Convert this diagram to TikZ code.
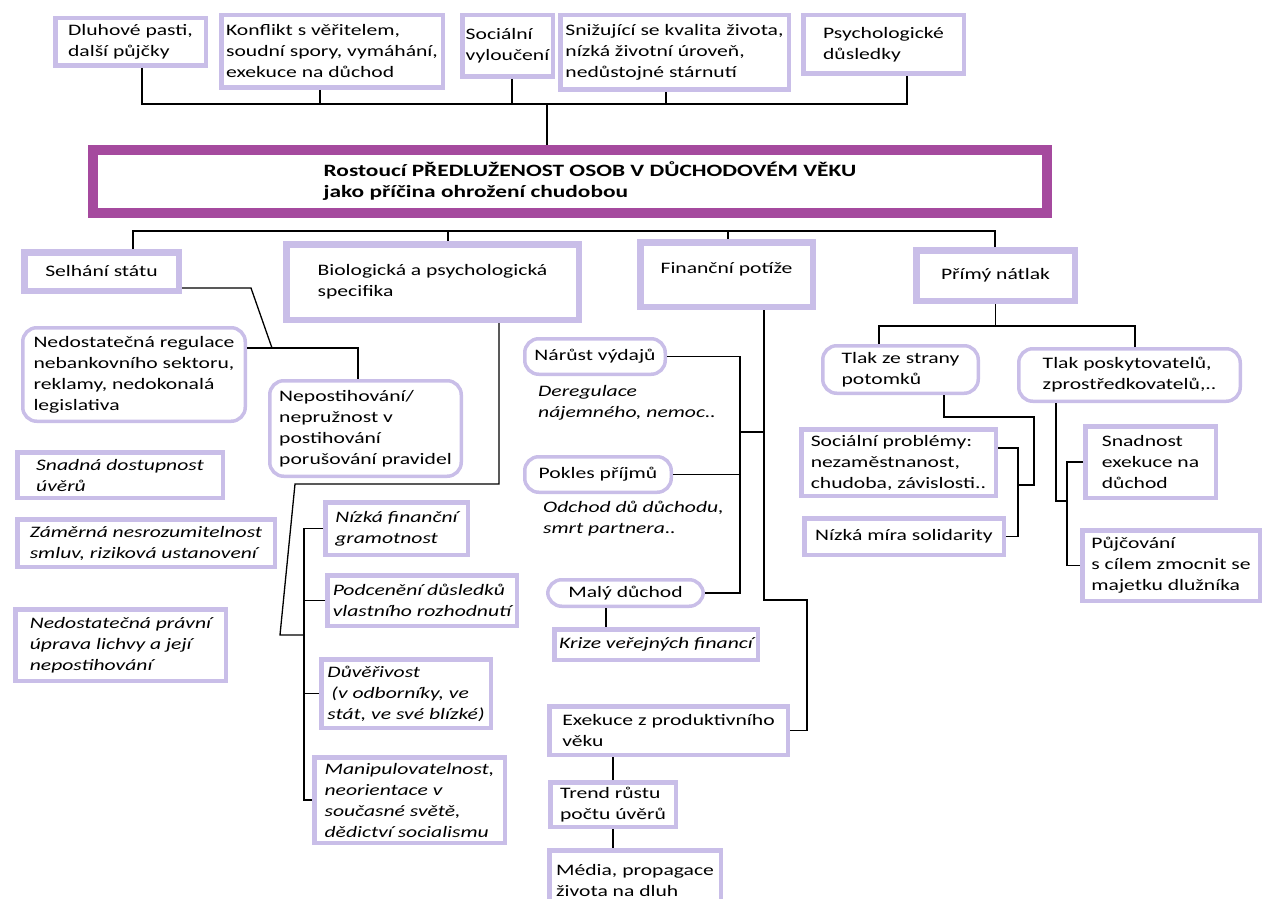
\documentclass[tikz,border=0pt]{standalone}
\usepackage{fontspec}
\setmainfont{Carlito}[FakeStretch=1.35]
\newcommand\fsize{\fontsize{16}{21}\selectfont}
\definecolor{lav}{RGB}{201,190,232}
\definecolor{plum}{RGB}{165,74,158}
\tikzset{
  box/.style={draw=lav, line width=4.5pt, inner sep=0pt, align=left},
  bigbox/.style={box, line width=6.5pt},
  roundbox/.style={box, line width=3.5pt, rounded corners=14pt},
  itbox/.style={box, font=\fsize\itshape},
  note/.style={inner sep=0pt, align=left, anchor=north west, font=\fsize\itshape},
  boxsize/.style 2 args={minimum width={#1-\pgflinewidth}, minimum height={#2-\pgflinewidth}},
  link/.style={line width=1.3pt}
}
\begin{document}
\begin{tikzpicture}[x=1pt, y=-1pt, font=\fsize]
\useasboundingbox (0,0) rectangle (1264,899);
% consequences
\node[box, boxsize={155}{52}] (dluh) at (130.5,42) {Dluhové pasti,\\další půjčky};
\node[box, boxsize={226}{77}] (konf) at (332,51.5) {Konflikt s věřitelem,\\soudní spory, vymáhání,\\exekuce na důchod};
\node[box, boxsize={95}{66}] (socv) at (507.5,46) {Sociální\\vyloučení};
\node[box, boxsize={233}{79}] (kval) at (674.5,52.5) {Snižující se kvalita života,\\nízká životní úroveň,\\nedůstojné stárnutí};
\node[box, boxsize={165}{63}] (psych) at (883.5,44.5) {Psychologické\\důsledky};
% main problem
\node[draw=plum, line width=10pt, inner sep=0pt, align=left, boxsize={964}{73}, font=\fontsize{17.3}{21}\selectfont\bfseries] (title) at (570,181.5)
  {\hspace*{40pt}Rostoucí PŘEDLUŽENOST OSOB V DŮCHODOVÉM VĚKU\\\hspace*{40pt}jako příčina ohrožení chudobou};
% causes
\node[bigbox, boxsize={161}{45}] (selh) at (101.5,271.5) {Selhání státu};
\node[bigbox, boxsize={299}{82}] (bio) at (432.5,282) {Biologická a psychologická\\specifika};
\node[bigbox, boxsize={179}{71}, text depth=14pt] (fin) at (726.5,274.5) {Finanční potíže};
\node[bigbox, boxsize={165}{57}] (tlak) at (995.5,275.5) {Přímý nátlak};
% state
\node[roundbox, boxsize={226}{97}] (regul) at (134,374.5) {Nedostatečná regulace\\nebankovního sektoru,\\reklamy, nedokonalá\\legislativa};
\node[roundbox, boxsize={195}{99}] (nepost) at (365.5,428.5) {Nepostihování/\\nepružnost v\\postihování\\porušování pravidel};
\node[itbox, boxsize={210}{50}] (uver) at (120,475) {Snadná dostupnost\\úvěrů};
\node[itbox, boxsize={262}{52}] (smluv) at (146,543) {Záměrná nesrozumitelnost\\smluv, riziková ustanovení};
\node[itbox, boxsize={215}{76}] (lichva) at (120.5,645) {Nedostatečná právní\\úprava lichvy a její\\nepostihování};
% biology
\node[itbox, boxsize={147}{57}] (gram) at (396.5,528.5) {Nízká finanční\\gramotnost};
\node[itbox, boxsize={194}{55}] (podc) at (422,600.5) {Podcenění důsledků\\vlastního rozhodnutí};
\node[itbox, boxsize={174}{73}] (duver) at (406,693.5) {Důvěřivost\\\hspace*{4pt}(v odborníky, ve\\stát, ve své blízké)};
\node[itbox, boxsize={195}{90}] (manip) at (409.5,800) {Manipulovatelnost,\\neorientace v\\současné světě,\\dědictví socialismu};
% finance
\node[roundbox, boxsize={144}{39}] (vydaje) at (595,356.5) {Nárůst výdajů};
\node[note] (dereg) at (538,385) {Deregulace\\nájemného, nemoc..};
\node[roundbox, boxsize={150}{39}] (prijmy) at (598,474.5) {Pokles příjmů};
\node[note] (odchod) at (543,501) {Odchod dů důchodu,\\smrt partnera..};
\node[roundbox, boxsize={159}{30}] (maly) at (625.5,593) {Malý důchod};
\node[itbox, boxsize={208}{35}] (krize) at (656,644.5) {Krize veřejných financí};
\node[box, boxsize={243}{53}] (exek) at (668.5,730.5) {Exekuce z produktivního\\věku};
\node[box, boxsize={130}{49}] (trend) at (613,804.5) {Trend růstu\\počtu úvěrů};
\node[box, boxsize={176}{64}] (media) at (635,880) {Média, propagace\\života na dluh};
% pressure
\node[roundbox, boxsize={159}{51}] (potomci) at (900.5,369.5) {Tlak ze strany\\potomků};
\node[roundbox, boxsize={225}{56}] (poskyt) at (1129.5,375) {Tlak poskytovatelů,\\zprostředkovatelů,..};
\node[box, boxsize={199}{71}] (socp) at (898.5,462.5) {Sociální problémy:\\nezaměstnanost,\\chudoba, závislosti..};
\node[box, boxsize={204}{41}] (solid) at (904,536.5) {Nízká míra solidarity};
\node[box, boxsize={135}{76}] (snadex) at (1150.5,462) {Snadnost\\exekuce na\\důchod};
\node[box, boxsize={182}{75}] (pujc) at (1171,565.5) {Půjčování\\s cílem zmocnit se\\majetku dlužníka};
% connectors
\coordinate (tbus) at (547,104);
\foreach \n/\x in {dluh/142, konf/320, socv/512, kval/666, psych/907}
  \draw[link] (\n.south -| \x,0) |- (tbus);
\draw[link] (tbus) -- (tbus |- title.north);
\coordinate (mbus) at (560,231);
\foreach \n/\x in {selh/133, bio/448, fin/728, tlak/995}
  \draw[link] (\n.north -| \x,0) |- (mbus);
\coordinate (sjoin) at (272,348);
\draw[link] (selh.east |- 0,288) -- ++(69,0) -- (sjoin);
\draw[link] (regul.east |- sjoin) -| (nepost.north -| 358,0);
\coordinate (bjoin) at (304,635);
\draw[link] (bio.south -| 499,0) |- (295,484) -- (280,635) -- (bjoin);
\draw[link] (gram.west) -| (manip.west -| bjoin) -- (manip.west);
\foreach \n in {podc, duver}
  \draw[link] (\n.west) -- (\n.west -| bjoin);
\coordinate (fspine) at (764,600);
\draw[link] (fin.south -| fspine) -- (fspine) -- ++(43,0) |- (exek.east);
\coordinate (fbr) at (740,432);
\draw[link] (vydaje.east) -| (maly.east -| fbr) -- (maly.east);
\draw[link] (prijmy.east) -- (prijmy.east -| fbr);
\draw[link] (fbr) -- (fbr -| fspine);
\draw[link] (maly.south -| 606,0) -- (krize.north -| 606,0);
\draw[link] (trend.north) -- (trend.north |- exek.south);
\draw[link] (trend.south) -- (trend.south |- media.north);
\coordinate (rbus) at (995,326);
\draw[link] (tlak.south) -- (tlak.south |- rbus);
\foreach \n/\x in {potomci/879, poskyt/1135}
  \draw[link] (\n.north -| \x,0) |- (rbus);
\coordinate (rspine) at (1018,485);
\draw[link] (potomci.south -| 944,0) |- (1034,417) |- (rspine);
\draw[link] (socp.east |- 0,448) -| (solid.east -| rspine) -- (solid.east);
\coordinate (lspine) at (1067,501);
\draw[link] (poskyt.south -| 1056,0) |- (lspine);
\draw[link] (snadex.west) -| (pujc.west -| lspine) -- (pujc.west);
\end{tikzpicture}
\end{document}
